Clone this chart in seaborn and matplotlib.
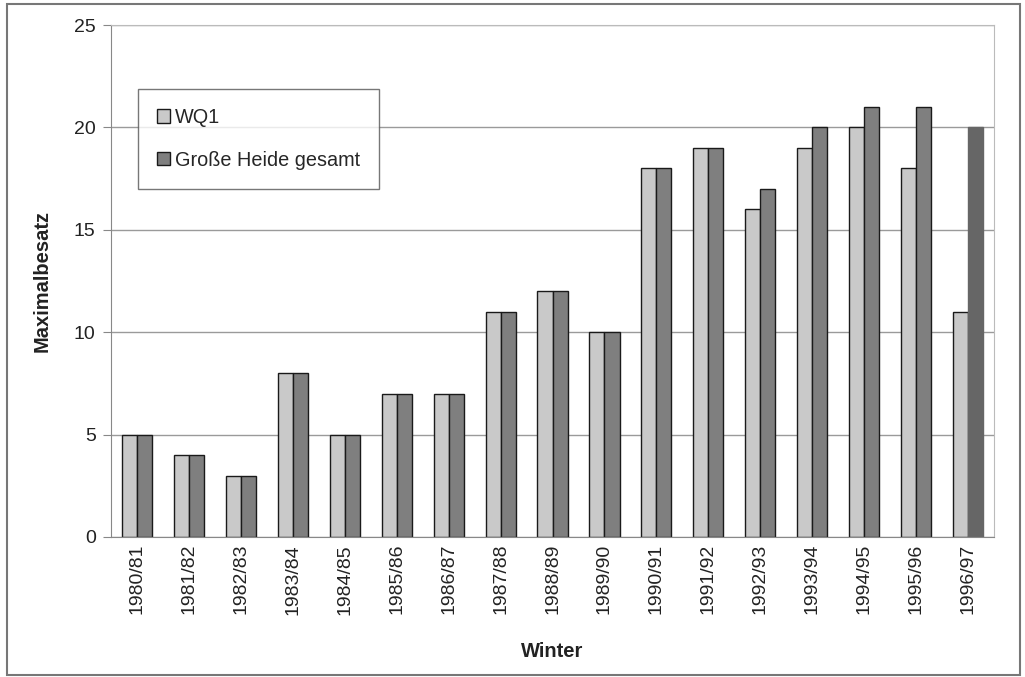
import matplotlib
matplotlib.use("Agg")
import matplotlib.pyplot as plt
import seaborn as sns
import pandas as pd
from matplotlib.patches import Rectangle

winters = ["1980/81", "1981/82", "1982/83", "1983/84", "1984/85", "1985/86",
           "1986/87", "1987/88", "1988/89", "1989/90", "1990/91", "1991/92",
           "1992/93", "1993/94", "1994/95", "1995/96", "1996/97"]
wq1 = [5, 4, 3, 8, 5, 7, 7, 11, 12, 10, 18, 19, 16, 19, 20, 18, 11]
heide = [5, 4, 3, 8, 5, 7, 7, 11, 12, 10, 18, 19, 17, 20, 21, 21, 20]
series = ["WQ1", "Große Heide gesamt"]
y_ticks = [0, 5, 10, 15, 20, 25]

df = pd.DataFrame({
    "Winter": winters * 2,
    "Maximalbesatz": wq1 + heide,
    "Reihe": [series[0]] * len(winters) + [series[1]] * len(winters),
})

sns.set_style("white")
plt.rcParams["font.family"] = ["Liberation Sans", "DejaVu Sans"]

fig = plt.figure(figsize=(10.25, 6.77), dpi=100)
ax = fig.add_axes([0.1083, 0.2068, 0.8615, 0.7562])

palette = {series[0]: "#c9c9c9", series[1]: "#7f7f7f"}
sns.barplot(data=df, x="Winter", y="Maximalbesatz", hue="Reihe",
            palette=palette, width=0.58, gap=0, edgecolor="#1a1a1a",
            linewidth=1.0, saturation=1, ax=ax, legend=False)

# last winter: total bar drawn solid without outline
last = ax.containers[1][-1]
last.set_facecolor("#666666")
last.set_edgecolor("#666666")

ax.set_ylim(0, 25)
ax.set_xlim(-0.5, len(winters) - 0.5)
ax.set_yticks(y_ticks)
ax.set_yticklabels([str(t) for t in y_ticks], fontsize=14, color="#222222")
ax.yaxis.grid(True, color="#9a9a9a", linewidth=1.0)
ax.set_axisbelow(True)

ax.set_xticks(range(len(winters)))
ax.set_xticklabels(winters, rotation=90, fontsize=14, color="#222222")
ax.tick_params(axis="x", which="major", length=0, pad=5)
ax.set_xticks([i + 0.5 for i in range(-1, len(winters))], minor=True)
ax.tick_params(axis="x", which="minor", length=5, color="#888888", direction="out")
ax.tick_params(axis="y", length=6, color="#888888", direction="out", left=True, pad=5)

for side in ["top", "right"]:
    ax.spines[side].set_visible(True)
    ax.spines[side].set_color("#bbbbbb")
    ax.spines[side].set_linewidth(0.8)
ax.spines["left"].set_color("#888888")
ax.spines["bottom"].set_color("#888888")

ax.set_xlabel("Winter", fontsize=14.5, fontweight="bold", labelpad=20, color="#222222")
ax.set_ylabel("Maximalbesatz", fontsize=14.5, fontweight="bold", labelpad=16, color="#222222")

handles = [Rectangle((0, 0), 1, 1, facecolor=palette[s], edgecolor="#1a1a1a", linewidth=1.0)
           for s in series]
leg = ax.legend(handles, series, loc="upper left", bbox_to_anchor=(0.031, 0.875),
                fontsize=14.3, frameon=True, fancybox=False, edgecolor="#555555",
                handlelength=0.65, handleheight=0.65, handletextpad=0.25,
                labelspacing=1.2, borderpad=0.95, borderaxespad=0)
leg.get_frame().set_linewidth(1.0)

# outer frame around the whole figure
fig.patches.append(Rectangle((0.007, 0.003), 0.988, 0.991, transform=fig.transFigure,
                             fill=False, edgecolor="#777777", linewidth=1.5))

fig.savefig("out.png", dpi=100)
